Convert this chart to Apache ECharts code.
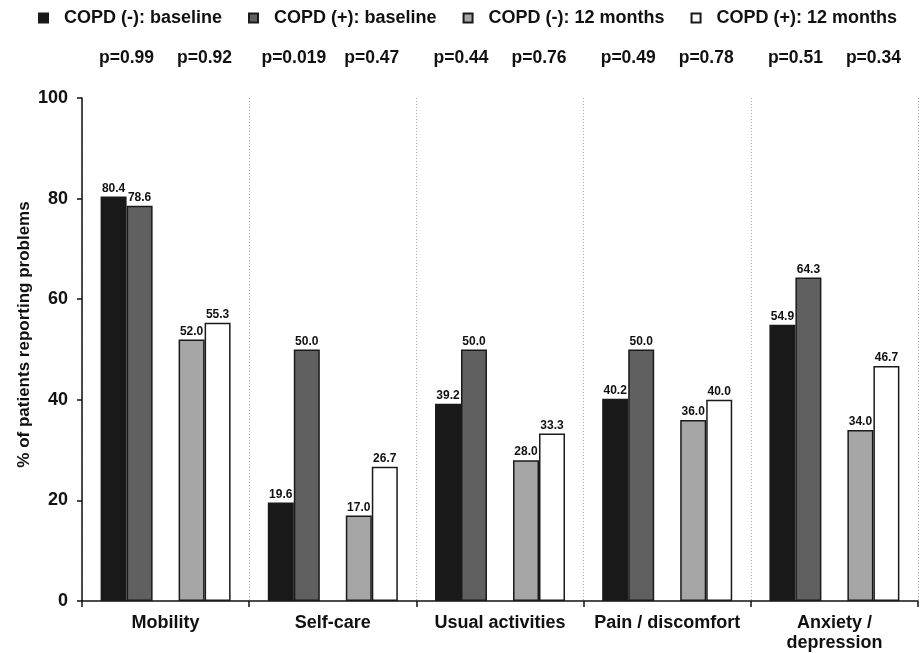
<!DOCTYPE html>
<html>
<head>
<meta charset="utf-8">
<script src="https://cdn.jsdelivr.net/npm/echarts@6/dist/echarts.min.js"></script>
<style>html,body{margin:0;padding:0;background:#fff}#c{width:920px;height:653px}</style>
</head>
<body>
<div id="c"></div>
<script>
const categories = ['Mobility', 'Self-care', 'Usual activities', 'Pain / discomfort', 'Anxiety /\ndepression'];
const seriesNames = ['COPD (-): baseline', 'COPD (+): baseline', 'COPD (-): 12 months', 'COPD (+): 12 months'];
const copdNegBaseline = [80.4, 19.6, 39.2, 40.2, 54.9];
const copdPosBaseline = [78.6, 50.0, 50.0, 50.0, 64.3];
const copdNeg12 = [52.0, 17.0, 28.0, 36.0, 34.0];
const copdPos12 = [55.3, 26.7, 33.3, 40.0, 46.7];
const pBaseline = ['p=0.99', 'p=0.019', 'p=0.44', 'p=0.49', 'p=0.51'];
const p12 = ['p=0.92', 'p=0.47', 'p=0.76', 'p=0.78', 'p=0.34'];
const yTicks = [0, 20, 40, 60, 80, 100];

const FONT = '"Liberation Sans", Arial, sans-serif';
const BW = 26;
const valueLabel = {
  show: true, position: 'top', distance: 2,
  fontFamily: FONT, fontWeight: 'bold', fontSize: 12, color: '#111',
  formatter: p => p.value.toFixed(1)
};
function barSeries(name, data, color) {
  return {
    name, type: 'bar', data, barWidth: BW, barGap: '0%',
    xAxisIndex: 0, yAxisIndex: 0,
    itemStyle: { color, borderColor: '#1a1a1a', borderWidth: 1.5 },
    label: valueLabel
  };
}
function pSeries(name, labels) {
  return {
    name, type: 'bar', data: categories.map(() => yTicks[yTicks.length - 1]),
    xAxisIndex: 1, yAxisIndex: 0, barWidth: BW * 2, barGap: '50%', silent: true,
    itemStyle: { color: 'rgba(0,0,0,0)' },
    label: {
      show: true, position: 'top', distance: 31,
      fontFamily: FONT, fontWeight: 'bold', fontSize: 17.5, color: '#111',
      formatter: p => labels[p.dataIndex]
    },
    z: 0
  };
}

const chart = echarts.init(document.getElementById('c'), null, { renderer: 'canvas' });
chart.setOption({
  animation: false,
  backgroundColor: '#fff',
  legend: {
    data: seriesNames,
    top: 4, left: 33, padding: 5, itemGap: 26, itemWidth: 31, itemHeight: 9,
    icon: 'path://M0,0L10,0L10,10L0,10Z', symbolKeepAspect: true,
    textStyle: { fontFamily: FONT, fontWeight: 'bold', fontSize: 18, color: '#111' },
    selectedMode: false
  },
  grid: { left: 82, right: 2, top: 98, bottom: 52, containLabel: false },
  xAxis: [
    {
      type: 'category', data: categories,
      axisLine: { lineStyle: { color: '#111', width: 1.5 } },
      axisTick: { show: true, interval: 0, length: 6, lineStyle: { color: '#111', width: 1.5 } },
      axisLabel: { interval: 0, fontFamily: FONT, fontWeight: 'bold', fontSize: 18, color: '#111', margin: 12, lineHeight: 20 },
      splitLine: { show: true, interval: 0, lineStyle: { color: '#aaa', type: [1, 2], width: 1 } }
    },
    { type: 'category', data: categories, show: false }
  ],
  yAxis: {
    type: 'value', min: 0, max: 100, interval: 20,
    name: '% of patients reporting problems', nameLocation: 'middle', nameGap: 49, nameMoveOverlap: false,
    nameTextStyle: { fontFamily: FONT, fontWeight: 'bold', fontSize: 17, color: '#111', padding: [0, 0, 0, 30] },
    axisLine: { show: true, lineStyle: { color: '#111', width: 1.5 } },
    axisTick: { show: true, length: 5, lineStyle: { color: '#111', width: 1.5 } },
    axisLabel: { fontFamily: FONT, fontWeight: 'bold', fontSize: 18, color: '#111', margin: 14 },
    splitLine: { show: false }
  },
  series: [
    barSeries(seriesNames[0], copdNegBaseline, '#191919'),
    barSeries(seriesNames[1], copdPosBaseline, '#606060'),
    { name: 'gap', type: 'bar', data: categories.map(() => null), barWidth: BW, barGap: '0%', xAxisIndex: 0, silent: true },
    barSeries(seriesNames[2], copdNeg12, '#a6a6a6'),
    barSeries(seriesNames[3], copdPos12, '#ffffff'),
    pSeries('pA', pBaseline),
    pSeries('pB', p12)
  ]
});
</script>
</body>
</html>
